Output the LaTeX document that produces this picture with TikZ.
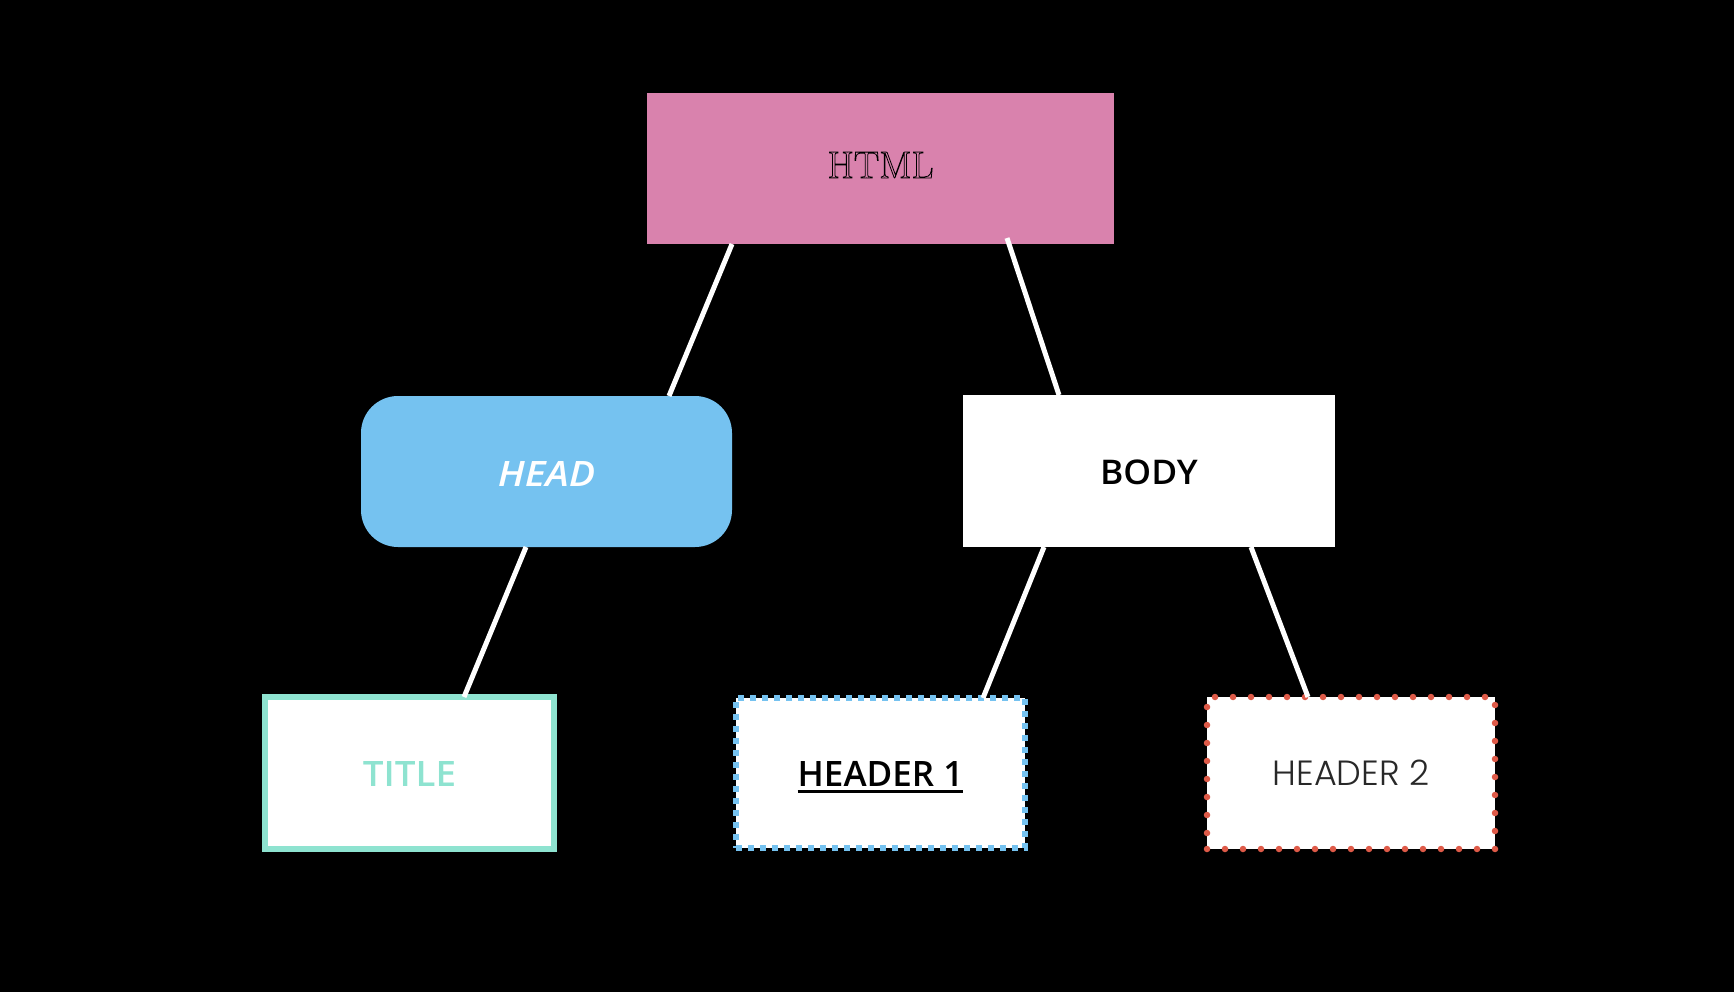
\documentclass[tikz,border=0pt]{standalone}
\usepackage{fontspec}
\IfFontExistsTF{Open Sans Semibold}{%
  \IfFontExistsTF{Open Sans Semibold Italic}{%
    \newfontfamily\osans{Open Sans Semibold}[ItalicFont={Open Sans Semibold Italic}]}{%
    \newfontfamily\osans{Open Sans Semibold}[ItalicFont={Open Sans Bold Italic}]}}{%
  \newfontfamily\osans{Open Sans}[UprightFont=*, BoldFont=*, UprightFeatures={FakeBold=1.2}, ItalicFont={* Italic}, ItalicFeatures={FakeBold=1.2}]}
\IfFontExistsTF{Poppins Light}{\newfontfamily\olight{Poppins Light}}{%
  \IfFontExistsTF{Lato Light}{\newfontfamily\olight{Lato Light}}{%
    \IfFontExistsTF{Open Sans Light}{\newfontfamily\olight{Open Sans Light}}{\newfontfamily\olight{DejaVu Sans ExtraLight}}}}
\newcommand\outlinetext[1]{\special{pdf:literal direct 1 Tr 0.8 w 0 0 0 RG}#1\special{pdf:literal direct 0 Tr}}
\definecolor{htmlpink}{RGB}{217,130,173}
\definecolor{headblue}{RGB}{117,194,240}
\definecolor{titleteal}{RGB}{142,227,208}
\definecolor{dotred}{RGB}{222,90,72}
\definecolor{hdrgray}{RGB}{40,40,40}
\tikzset{
  box/.style={rectangle, inner sep=0pt, outer sep=0pt, anchor=center},
  lbl/.style={inner sep=0pt, outer sep=0pt, anchor=center},
  link/.style={draw=white, line width=5pt},
}
\begin{document}
\begin{tikzpicture}[x=1pt,y=-1pt]
\fill[black] (0,0) rectangle (1734,992);
\useasboundingbox (0,0) rectangle (1734,992);
% nodes
\node[box, fill=htmlpink, minimum width=467pt, minimum height=151pt] (html) at (880.5,168.5) {};
\node[box, fill=headblue, rounded corners=37pt, minimum width=371pt, minimum height=151pt] (head) at (546.5,471.5) {};
\node[box, fill=white, minimum width=372pt, minimum height=152pt] (body) at (1149,471) {};
\node[box, fill=white, draw=titleteal, line width=6pt, minimum width=289pt, minimum height=152pt] (title) at (409.5,773) {};
\node[box, fill=white, draw=headblue, line width=5.5pt, dash pattern=on 6pt off 6pt, minimum width=289pt, minimum height=150pt] (hone) at (880.5,773) {};
\node[box, fill=white, draw=dotred, line width=6.5pt, line cap=round, dash pattern=on 0pt off 18pt, minimum width=288pt, minimum height=152pt] (htwo) at (1351,773) {};
% labels
\node[lbl, yshift=3.5pt] (htmltext) at (html.center) {\fontsize{38}{40}\selectfont\outlinetext{HTML}};
\node[lbl, text=white, yshift=-2pt] (headtext) at (head.center) {\scalebox{1.12}[1]{\osans\itshape\fontsize{35}{37}\selectfont HEAD}};
\node[lbl, text=black, yshift=-1pt] (bodytext) at (body.center) {\scalebox{1.04}[1]{\osans\fontsize{34}{36}\selectfont BODY}};
\node[lbl, text=titleteal, yshift=-1pt] (titletext) at (title.center) {\scalebox{1.05}[1]{\osans\fontsize{35}{37}\selectfont TITLE}};
\node[lbl, text=black, yshift=-1pt] (honetext) at (hone.center) {\osans\fontsize{35}{37}\selectfont HEADER 1};
\node[lbl, text=hdrgray] (htwotext) at (htwo.center) {\olight\fontsize{35}{37}\selectfont HEADER 2};
\draw[black, line width=3pt] ([yshift=-5pt]honetext.south west) -- ([yshift=-5pt]honetext.south east);
% connectors
\draw[link] ([xshift=85pt]html.south west) -- ([xshift=308pt]head.north west);
\draw[link] ([xshift=360pt,yshift=6pt]html.south west) -- ([xshift=96pt]body.north west);
\draw[link] ([xshift=165pt]head.south west) -- ([xshift=199pt]title.north west);
\draw[link] ([xshift=81pt]body.south west) -- ([xshift=247pt]hone.north west);
\draw[link] ([xshift=288pt]body.south west) -- ([xshift=101pt]htwo.north west);
\end{tikzpicture}
\end{document}
